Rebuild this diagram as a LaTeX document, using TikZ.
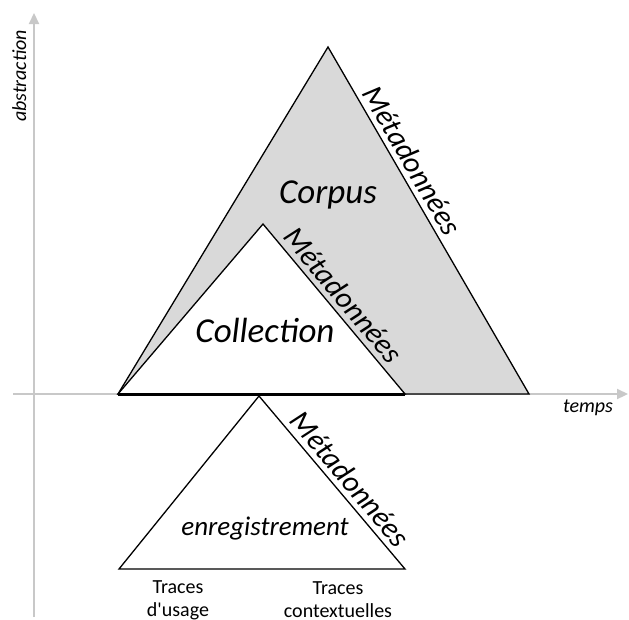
\documentclass[tikz,border=0pt]{standalone}
\usepackage{fontspec}
\setmainfont{Carlito}
\usetikzlibrary{arrows.meta}
\definecolor{axisgray}{RGB}{200,200,200}
\definecolor{corpusfill}{RGB}{217,217,217}
\begin{document}
\begin{tikzpicture}[x=1pt,y=-1pt,
  tri/.style={draw=black,line width=1.3pt,line join=miter},
  axisline/.style={draw=axisgray,line width=2.2pt,-{Triangle[length=11pt,width=10pt]}},
  meta/.style={font=\fontsize{30}{36}\selectfont\itshape,sloped,above=5pt,inner sep=0pt,pos=#1},
  bigtxt/.style={font=\fontsize{35}{42}\selectfont\itshape,anchor=base,inner sep=0pt},
  midtxt/.style={font=\fontsize{27}{32}\selectfont\itshape,anchor=base,inner sep=0pt},
  axtxt/.style={font=\fontsize{20}{24}\selectfont\itshape,anchor=base,inner sep=0pt},
  tracetxt/.style={font=\fontsize{20}{23}\selectfont,align=center,inner sep=0pt}]
\useasboundingbox (0,0) rectangle (629,619);
% axes
\coordinate (yb) at (34,617);
\coordinate (yt) at (34,13);
\coordinate (xl) at (13,394);
\coordinate (xr) at (628,394);
\draw[axisline] (yb) -- (yt);
\draw[axisline] (xl) -- (xr);
% corpus triangle
\coordinate (cL) at (118,394);
\coordinate (cA) at (328,47);
\coordinate (cR) at (529,394);
\path[tri,fill=corpusfill] (cL) -- (cA) -- node[meta=0.35] (m1) {Métadonnées} (cR) -- cycle;
% collection triangle
\coordinate (lL) at (118,394);
\coordinate (lA) at (263,224);
\coordinate (lR) at (405,394);
\path[tri,fill=white] (lL) -- (lA) -- node[meta=0.48] (m2) {Métadonnées} (lR) -- cycle;
\draw[line width=3pt] (lL) -- (lR);
% enregistrement triangle
\coordinate (eA) at (259,396);
\coordinate (eL) at (119,569);
\coordinate (eR) at (405,569);
\path[tri] (eL) -- (eA) -- node[meta=0.54] (m3) {Métadonnées} (eR) -- cycle;
% labels
\node[bigtxt] (corpus) at (328,203) {Corpus};
\node[bigtxt] (collection) at (265,342) {Collection};
\node[midtxt] (enreg) at (265,535) {enregistrement};
\node[axtxt] (temps) at (588,412) {temps};
\node[axtxt,rotate=90] (abstr) at (26,76) {abstraction};
\node[tracetxt] (tu) at (178,600) {Traces\\d\textquotesingle usage};
\node[tracetxt] (tc) at (338,600) {Traces\\contextuelles};
\end{tikzpicture}
\end{document}
